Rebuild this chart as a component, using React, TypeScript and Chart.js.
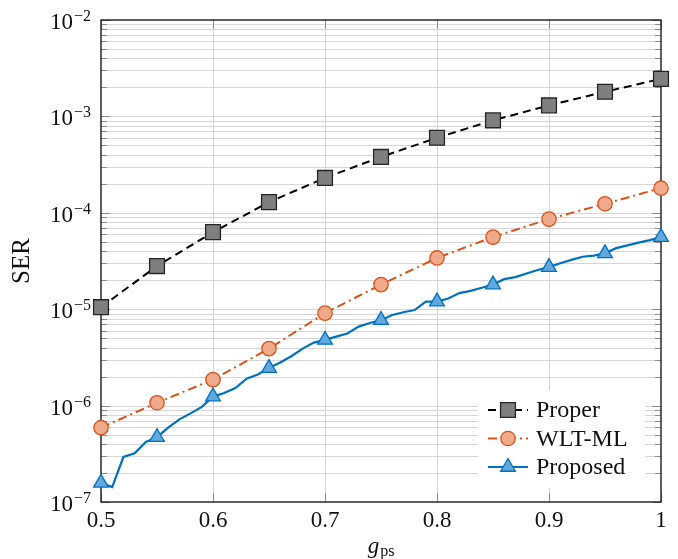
import React, { useEffect, useRef } from "react";
import { Chart, registerables } from "chart.js";

Chart.register(...registerables);

const gpsCoarse = [0.5, 0.55, 0.6, 0.65, 0.7, 0.75, 0.8, 0.85, 0.9, 0.95, 1.0];
const properSER = [1.05e-5, 2.8e-5, 6.3e-5, 1.29e-4, 2.3e-4, 3.8e-4, 6.0e-4, 9.1e-4, 1.3e-3, 1.8e-3, 2.45e-3];
const wltmlSER = [5.9e-7, 1.07e-6, 1.86e-6, 3.9e-6, 9.1e-6, 1.8e-5, 3.4e-5, 5.6e-5, 8.6e-5, 1.24e-4, 1.8e-4];

const gpsFine = [
  0.5, 0.51, 0.52, 0.53, 0.54, 0.55, 0.56, 0.57, 0.58, 0.59,
  0.6, 0.61, 0.62, 0.63, 0.64, 0.65, 0.66, 0.67, 0.68, 0.69,
  0.7, 0.71, 0.72, 0.73, 0.74, 0.75, 0.76, 0.77, 0.78, 0.79,
  0.8, 0.81, 0.82, 0.83, 0.84, 0.85, 0.86, 0.87, 0.88, 0.89,
  0.9, 0.91, 0.92, 0.93, 0.94, 0.95, 0.96, 0.97, 0.98, 0.99, 1.0,
];
const proposedSER = [
  1.58e-7, 1.43e-7, 2.93e-7, 3.2e-7, 4.2e-7, 4.7e-7, 5.9e-7, 7.2e-7, 8.3e-7, 9.7e-7,
  1.24e-6, 1.35e-6, 1.52e-6, 1.9e-6, 2.1e-6, 2.45e-6, 2.8e-6, 3.25e-6, 3.9e-6, 4.5e-6,
  4.8e-6, 5.2e-6, 5.6e-6, 6.6e-6, 7.2e-6, 7.7e-6, 8.7e-6, 9.3e-6, 9.8e-6, 1.2e-5,
  1.2e-5, 1.29e-5, 1.47e-5, 1.55e-5, 1.67e-5, 1.8e-5, 2.05e-5, 2.15e-5, 2.35e-5, 2.55e-5,
  2.73e-5, 3.0e-5, 3.25e-5, 3.5e-5, 3.6e-5, 3.8e-5, 4.3e-5, 4.6e-5, 4.9e-5, 5.2e-5, 5.6e-5,
];

const xTicks = [0.5, 0.6, 0.7, 0.8, 0.9, 1.0];
const xTickLabels = ["0.5", "0.6", "0.7", "0.8", "0.9", "1"];
const yExponents = [-7, -6, -5, -4, -3, -2];
const seriesNames = ["Proper", "WLT-ML", "Proposed"];

const SERIF = '"Liberation Serif", "DejaVu Serif", serif';
const GRID = "#d6d6d6";
const TICK = "#8c8c8c";

const styles = [
  { line: "#000000", dash: [8, 5], width: 2, shape: "rect", fill: "#7f7f7f", stroke: "#262626", r: 10.5 },
  { line: "#d95319", dash: [9, 4, 2, 4], width: 2, shape: "circle", fill: "#eeaa8a", stroke: "#d95319", r: 7.2 },
  { line: "#0072bd", dash: [], width: 2.2, shape: "triangle", fill: "#62a8dc", stroke: "#0072bd", r: 8.5 },
];

function drawMarker(ctx: CanvasRenderingContext2D, shape: string, x: number, y: number, r: number, fill: string, stroke: string) {
  ctx.save();
  ctx.setLineDash([]);
  ctx.fillStyle = fill;
  ctx.strokeStyle = stroke;
  ctx.lineWidth = 1.3;
  ctx.beginPath();
  if (shape === "rect") {
    const s = Math.SQRT1_2 * r;
    ctx.rect(x - s, y - s, 2 * s, 2 * s);
  } else if (shape === "circle") {
    ctx.arc(x, y, r, 0, Math.PI * 2);
  } else {
    for (let i = 0; i < 3; i++) {
      const a = -Math.PI / 2 + (i * 2 * Math.PI) / 3;
      const px = x + Math.cos(a) * r;
      const py = y + Math.sin(a) * r;
      if (i === 0) ctx.moveTo(px, py);
      else ctx.lineTo(px, py);
    }
    ctx.closePath();
  }
  ctx.fill();
  ctx.stroke();
  ctx.restore();
}

const decorPlugin = {
  id: "decor",
  beforeDatasetsDraw(chart: any) {
    const ctx: CanvasRenderingContext2D = chart.ctx;
    const { left, right, top, bottom } = chart.chartArea;
    const xs = chart.scales.x;
    const ys = chart.scales.y;
    ctx.save();
    ctx.lineWidth = 1;
    const yVals: { v: number; major: boolean }[] = [];
    for (const e of yExponents) {
      for (let k = 1; k <= 9; k++) {
        const v = k * Math.pow(10, e);
        if (e === yExponents[yExponents.length - 1] && k > 1) break;
        yVals.push({ v, major: k === 1 });
      }
    }
    ctx.strokeStyle = GRID;
    for (const t of yVals) {
      const py = Math.round(ys.getPixelForValue(t.v)) + 0.5;
      if (py <= top + 1 || py >= bottom - 1) continue;
      ctx.beginPath();
      ctx.moveTo(left, py);
      ctx.lineTo(right, py);
      ctx.stroke();
    }
    for (const xv of xTicks) {
      const px = Math.round(xs.getPixelForValue(xv)) + 0.5;
      if (px <= left + 1 || px >= right - 1) continue;
      ctx.beginPath();
      ctx.moveTo(px, top);
      ctx.lineTo(px, bottom);
      ctx.stroke();
    }
    ctx.strokeStyle = TICK;
    for (const t of yVals) {
      const py = Math.round(ys.getPixelForValue(t.v)) + 0.5;
      const len = t.major ? 9 : 6;
      ctx.beginPath();
      ctx.moveTo(left, py);
      ctx.lineTo(left + len, py);
      ctx.moveTo(right, py);
      ctx.lineTo(right - len, py);
      ctx.stroke();
    }
    for (const xv of xTicks) {
      const px = Math.round(xs.getPixelForValue(xv)) + 0.5;
      ctx.beginPath();
      ctx.moveTo(px, bottom);
      ctx.lineTo(px, bottom - 9);
      ctx.moveTo(px, top);
      ctx.lineTo(px, top + 9);
      ctx.stroke();
    }
    ctx.strokeStyle = "#1a1a1a";
    ctx.lineWidth = 1.4;
    ctx.strokeRect(left, top, right - left, bottom - top);
    ctx.restore();
  },
  afterDraw(chart: any) {
    const ctx: CanvasRenderingContext2D = chart.ctx;
    const { left, right, top, bottom } = chart.chartArea;
    const xs = chart.scales.x;
    const ys = chart.scales.y;
    ctx.save();
    ctx.fillStyle = "#111111";
    for (const e of yExponents) {
      const py = ys.getPixelForValue(Math.pow(10, e));
      const sup = "\u2212" + Math.abs(e);
      ctx.font = `16px ${SERIF}`;
      ctx.textAlign = "right";
      ctx.textBaseline = "alphabetic";
      const supW = ctx.measureText(sup).width;
      const supRight = left - 10;
      ctx.fillText(sup, supRight, py + 1);
      ctx.font = `23px ${SERIF}`;
      ctx.fillText("10", supRight - supW - 1, py + 9);
    }
    ctx.font = `23px ${SERIF}`;
    ctx.textAlign = "center";
    ctx.textBaseline = "alphabetic";
    xTicks.forEach((xv, i) => {
      ctx.fillText(xTickLabels[i], xs.getPixelForValue(xv), bottom + 25);
    });
    const cx = (left + right) / 2;
    ctx.font = `italic 23px ${SERIF}`;
    const gW = ctx.measureText("g").width;
    ctx.font = `16px ${SERIF}`;
    const psW = ctx.measureText("ps").width;
    const startX = cx - (gW + psW + 1) / 2;
    ctx.textAlign = "left";
    ctx.font = `italic 23px ${SERIF}`;
    ctx.fillText("g", startX, bottom + 51);
    ctx.font = `16px ${SERIF}`;
    ctx.fillText("ps", startX + gW + 1, bottom + 54);
    ctx.save();
    ctx.translate(22, (top + bottom) / 2);
    ctx.rotate(-Math.PI / 2);
    ctx.font = `25px ${SERIF}`;
    ctx.textAlign = "center";
    ctx.textBaseline = "middle";
    ctx.fillText("SER", 0, 0);
    ctx.restore();

    const lx = right - 183;
    const ly = bottom - 112;
    ctx.fillStyle = "#ffffff";
    ctx.fillRect(lx, ly, 167, 98);
    seriesNames.forEach((name, i) => {
      const st = styles[i];
      const ry = ly + 20 + i * 28.5;
      ctx.save();
      ctx.strokeStyle = st.line;
      ctx.lineWidth = st.width;
      ctx.setLineDash(st.dash);
      ctx.beginPath();
      ctx.moveTo(lx + 10, ry);
      ctx.lineTo(lx + 50, ry);
      ctx.stroke();
      ctx.restore();
      drawMarker(ctx, st.shape, lx + 30, ry, st.r, st.fill, st.stroke);
      ctx.fillStyle = "#111111";
      ctx.font = `24px ${SERIF}`;
      ctx.textAlign = "left";
      ctx.textBaseline = "middle";
      ctx.fillText(name, lx + 58, ry + 1);
    });
    ctx.restore();
  },
};

export default function App() {
  const ref = useRef<HTMLCanvasElement>(null);
  useEffect(() => {
    document.body.style.margin = "0";
    const canvas = ref.current;
    if (!canvas) return;
    const mk = (xArr: number[], yArr: number[]) => xArr.map((x, i) => ({ x, y: yArr[i] }));
    const chart = new Chart(canvas, {
      type: "line",
      data: {
        datasets: [
          {
            label: seriesNames[0],
            data: mk(gpsCoarse, properSER),
            borderColor: styles[0].line,
            borderWidth: styles[0].width,
            borderDash: styles[0].dash,
            pointStyle: "rect",
            pointRadius: styles[0].r,
            pointBackgroundColor: styles[0].fill,
            pointBorderColor: styles[0].stroke,
            pointBorderWidth: 1.3,
            clip: false as any,
            order: 3,
          },
          {
            label: seriesNames[1],
            data: mk(gpsCoarse, wltmlSER),
            borderColor: styles[1].line,
            borderWidth: styles[1].width,
            borderDash: styles[1].dash,
            pointStyle: "circle",
            pointRadius: styles[1].r,
            pointBackgroundColor: styles[1].fill,
            pointBorderColor: styles[1].stroke,
            pointBorderWidth: 1.3,
            clip: false as any,
            order: 2,
          },
          {
            label: seriesNames[2],
            data: mk(gpsFine, proposedSER),
            borderColor: styles[2].line,
            borderWidth: styles[2].width,
            pointStyle: "triangle",
            pointRadius: (c: any) => (c.dataIndex % 5 === 0 ? styles[2].r : 0),
            pointBackgroundColor: styles[2].fill,
            pointBorderColor: styles[2].stroke,
            pointBorderWidth: 1.3,
            clip: false as any,
            order: 1,
          },
        ],
      },
      options: {
        responsive: false,
        animation: false,
        events: [],
        layout: { padding: { left: 101, right: 17, top: 20, bottom: 57 } },
        plugins: { legend: { display: false }, tooltip: { enabled: false } },
        scales: {
          x: { type: "linear", min: 0.5, max: 1.0, display: false },
          y: { type: "logarithmic", min: 1e-7, max: 1e-2, display: false },
        },
      },
      plugins: [decorPlugin],
    });
    return () => chart.destroy();
  }, []);
  return (
    <div style={{ width: 678, height: 559, background: "#fff" }}>
      <canvas ref={ref} width={678} height={559} />
    </div>
  );
}
